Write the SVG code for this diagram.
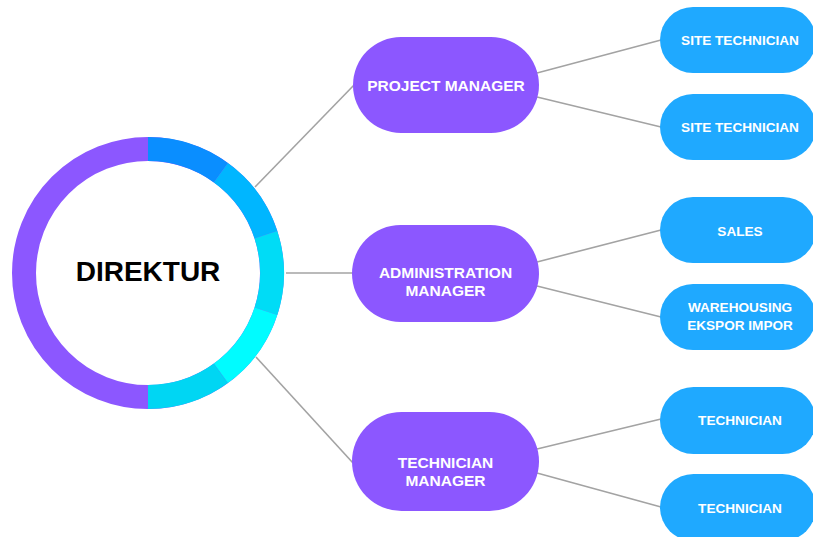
<svg xmlns="http://www.w3.org/2000/svg" width="813" height="537" viewBox="0 0 813 537">
<style>
.conn{stroke:#a3a3a3;stroke-width:1.6;fill:none}
.ring{fill:none;stroke-width:24;stroke-linecap:butt}
.mgr{fill:#8c57ff}
.sub{fill:#1fa9ff}
.t{font-family:"Liberation Sans",Arial,sans-serif;font-weight:bold;fill:#fff;text-anchor:middle}
.tm{font-size:15.5px}
.ts{font-size:13.6px}
</style>
<rect width="813" height="537" fill="#fff"/>
<g id="connectors">
<line class="conn" x1="255" y1="187" x2="355" y2="84"/>
<line class="conn" x1="286" y1="273" x2="353" y2="273"/>
<line class="conn" x1="256" y1="357" x2="353" y2="463"/>
<line class="conn" x1="537" y1="73" x2="661" y2="40"/>
<line class="conn" x1="537" y1="97" x2="661" y2="127"/>
<line class="conn" x1="537" y1="262" x2="661" y2="230"/>
<line class="conn" x1="537" y1="286" x2="661" y2="317"/>
<line class="conn" x1="537" y1="449" x2="661" y2="419"/>
<line class="conn" x1="537" y1="473" x2="661" y2="507"/>
</g>
<g id="direktur">
<circle cx="148" cy="273" r="124" fill="#fff" class="ring" stroke="#8c57ff"/>
<path class="ring" stroke="#0a8eff" d="M148 149 A124 124 0 0 1 220.89 172.68"/>
<path class="ring" stroke="#00b6ff" d="M220.89 172.68 A124 124 0 0 1 265.93 234.68"/>
<path class="ring" stroke="#00dcf6" d="M265.93 234.68 A124 124 0 0 1 265.93 311.32"/>
<path class="ring" stroke="#00fcff" d="M265.93 311.32 A124 124 0 0 1 220.89 373.32"/>
<path class="ring" stroke="#00d6f3" d="M220.89 373.32 A124 124 0 0 1 148 397"/>
<text x="148" y="281" font-family="Liberation Sans,Arial,sans-serif" font-weight="bold" font-size="28" fill="#000" text-anchor="middle">DIREKTUR</text>
</g>
<g id="project-manager">
<rect class="mgr" x="353" y="37" width="186" height="96" rx="48"/>
<text class="t tm" x="446" y="91">PROJECT MANAGER</text>
</g>
<g id="administration-manager">
<rect class="mgr" x="352" y="225" width="187" height="97" rx="48.5"/>
<text class="t tm" x="445.5" y="278">ADMINISTRATION</text>
<text class="t tm" x="445.5" y="296">MANAGER</text>
</g>
<g id="technician-manager">
<rect class="mgr" x="352" y="412" width="187" height="99" rx="49.5"/>
<text class="t tm" x="445.5" y="468">TECHNICIAN</text>
<text class="t tm" x="445.5" y="486">MANAGER</text>
</g>
<g id="site-technician-1">
<rect class="sub" x="660" y="7" width="156" height="66" rx="33"/>
<text class="t ts" x="740" y="45">SITE TECHNICIAN</text>
</g>
<g id="site-technician-2">
<rect class="sub" x="660" y="94" width="156" height="66" rx="33"/>
<text class="t ts" x="740" y="132">SITE TECHNICIAN</text>
</g>
<g id="sales">
<rect class="sub" x="660" y="197" width="156" height="66" rx="33"/>
<text class="t ts" x="740" y="236">SALES</text>
</g>
<g id="warehousing">
<rect class="sub" x="660" y="284" width="156" height="66" rx="33"/>
<text class="t ts" x="740" y="312">WAREHOUSING</text>
<text class="t ts" x="740" y="330">EKSPOR IMPOR</text>
</g>
<g id="technician-1">
<rect class="sub" x="660" y="387" width="156" height="67" rx="33.5"/>
<text class="t ts" x="740" y="425">TECHNICIAN</text>
</g>
<g id="technician-2">
<rect class="sub" x="660" y="474" width="156" height="67" rx="33.5"/>
<text class="t ts" x="740" y="513">TECHNICIAN</text>
</g>
</svg>
